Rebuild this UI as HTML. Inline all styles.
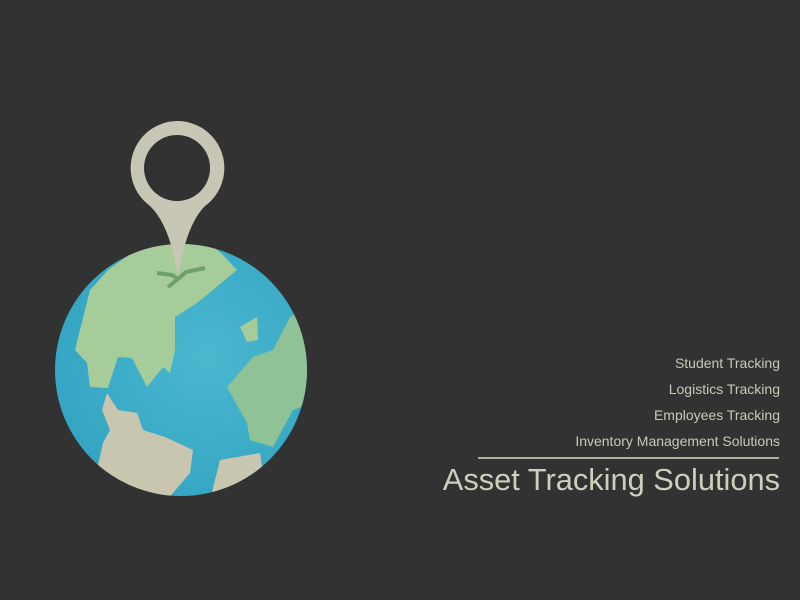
<!DOCTYPE html>
<html><head><meta charset="utf-8"><style>
body{margin:0;width:800px;height:600px;background:#323232;overflow:hidden;position:relative;font-family:"Liberation Sans",sans-serif}
.t{position:absolute;right:20px;color:#c9c8b8;font-size:14px;white-space:nowrap}
</style></head><body>
<svg width="800" height="600" style="position:absolute;left:0;top:0">
<defs><clipPath id="c"><circle cx="181" cy="370" r="126"/></clipPath>
<radialGradient id="g" cx="0.6" cy="0.45" r="0.6"><stop offset="0" stop-color="#4bb8cf"/><stop offset="1" stop-color="#34a5c3"/></radialGradient></defs>
<circle cx="181" cy="370" r="126" fill="url(#g)"/>
<g clip-path="url(#c)">
<polygon fill="#a6cc9a" points="112,267 108,270 90,290 75,350 87,363 90,387 108,388 118,357 132,358 147,387 163,367 170,373 175,350 175,317 197,303 213,290 237,270 222,254 205,240 150,240"/>
<polygon fill="#8fc296" points="290,317 273,350 253,357 227,387 247,423 250,440 273,447 293,410 320,400 320,300"/>
<polygon fill="#a6cc9a" points="240,327 257,317 258,340 247,342 243,333"/>
<polygon fill="#c9c6b0" points="107,393 118,410 137,413 143,430 165,437 193,450 190,473 167,500 90,500 103,443 110,430 102,410"/>
<polygon fill="#c9c6b0" points="220,460 260,453 262,467 235,500 210,500"/>
</g>
<path fill="#c8c6b4" fill-rule="evenodd" d="M177,121 A47,47 0 0 1 205,206 Q186,225 178,277 Q170,225 150,206 A47,47 0 0 1 177,121 Z M177,135 A33,33 0 1 0 177.1,135 Z"/>
<path d="M157,273 L172,275 L178,279 M178,279 L186,272 L205,268 M178,279 L168,287" stroke="#6fa06a" stroke-width="4" fill="none"/>
</svg>
<div class="t" style="top:355px">Student Tracking</div>
<div class="t" style="top:381px">Logistics Tracking</div>
<div class="t" style="top:407px">Employees Tracking</div>
<div class="t" style="top:433px">Inventory Management Solutions</div>
<div style="position:absolute;left:478px;top:457px;width:301px;height:2px;background:#aeada0"></div>
<div class="t" style="top:462px;font-size:30.8px;color:#cfcdbc">Asset Tracking Solutions</div>
</body></html>
